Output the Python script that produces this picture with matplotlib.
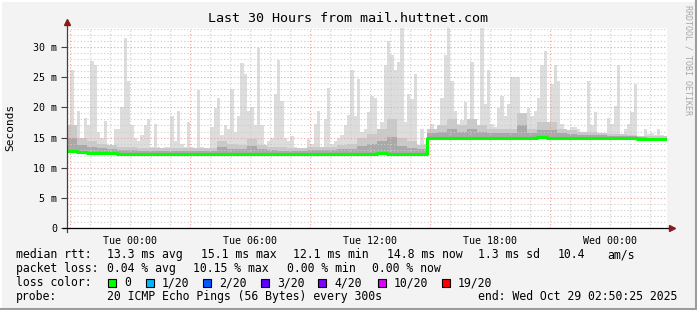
import numpy as np
import matplotlib
matplotlib.use("Agg")
import matplotlib.pyplot as plt
from matplotlib.lines import Line2D
from matplotlib.patches import Rectangle

# --- data (SmokePing, 30 hours ending Wed 02:50:25) ---
# max ping per 10 minute step (ms), 180 steps
smoke_max = [17, 26.2, 15.5, 19.4, 14.5, 18.2, 17, 27.7, 27, 16,
             15, 17.7, 13.5, 13.5, 16.5, 16.5, 20, 31.5, 24.4, 17,
             15, 14.5, 15.5, 17, 18, 13.5, 17.3, 13.5, 13.3, 13.5,
             13.5, 18.6, 14.5, 19.4, 14, 13.5, 17.6, 13.5, 13.3, 22.9,
             13.5, 13.3, 13.3, 16.8, 19.9, 21.6, 15.5, 17, 16.5, 23,
             16, 18.5, 27.4, 25.5, 19.4, 20, 17, 29.9, 17, 13.5,
             14.5, 15, 22.3, 27.9, 21, 15, 14.5, 15.3, 13.5, 13.3,
             13.3, 13.3, 14.8, 14, 17.3, 19.4, 13.5, 18, 23.3, 14,
             14.5, 15, 15.5, 17, 18.8, 26.2, 18.5, 24.7, 16, 16.5,
             19.2, 21.9, 21.6, 16, 17.5, 27.1, 31, 28.7, 26.2, 27.6,
             33.2, 17.5, 22.3, 21.4, 25.5, 13.5, 16.5, 14, 16.5, 17.3,
             16.5, 16.8, 21.6, 28.7, 33.2, 24.4, 19.4, 17.3, 17.9, 20.9,
             17.3, 27.6, 18, 16.5, 33.2, 20.5, 26.2, 17.3, 16.8, 19.9,
             21.9, 18.5, 20.5, 25, 25, 25, 16.3, 16.3, 19.9, 18.5,
             19.4, 21.6, 27, 29.3, 17, 23.9, 27, 24.4, 17.3, 16.5,
             16, 16.8, 16.8, 16.5, 15.5, 15.5, 24.3, 17, 19.2, 15.5,
             15.3, 15.3, 18.2, 17.3, 20.2, 27, 15.3, 16.5, 17.3, 19.2,
             23.8, 15.3, 15.3, 16.5, 15.6, 15.8, 15.5, 16.5, 15.5, 15.3]

# upper edge of the darker smoke band per 30 minutes (ms), 60 steps
smoke_mid = [17, 15, 14.5, 14, 13.8, 13.5, 13.5, 13.3, 13.3, 13.3,
             13.3, 13.3, 13.3, 13.3, 13.3, 14.5, 14, 13.8, 14.8, 13.8,
             13.5, 13.5, 13.3, 13.3, 13.5, 13.5, 13.5, 13.8, 14, 15,
             15.6, 16.5, 18, 15, 14.5, 13.8, 16.5, 17, 18, 17,
             18, 17, 16.5, 16.5, 16.5, 19, 16.5, 17.5, 17.5, 16.5,
             16.2, 16, 16, 15.8, 15.6, 15.6, 15.5, 15.3, 15.3, 15.3]

# median rtt per 30 minutes (ms), 60 steps
median_rtt = [12.8, 12.6, 12.5, 12.4, 12.4, 12.3, 12.3, 12.2, 12.3, 12.3,
              12.2, 12.2, 12.2, 12.3, 12.3, 12.3, 12.2, 12.3, 12.3, 12.3,
              12.3, 12.2, 12.3, 12.3, 12.3, 12.3, 12.3, 12.3, 12.2, 12.3,
              12.3, 12.4, 12.3, 12.3, 12.2, 12.3, 14.9, 15.0, 15.0, 15.0,
              15.0, 15.0, 15.0, 15.0, 15.0, 15.0, 15.0, 15.1, 15.0, 15.0,
              15.0, 15.0, 15.0, 15.0, 15.0, 15.0, 14.9, 14.8, 14.7, 14.7]

tick_labels = ["Tue 00:00", "Tue 06:00", "Tue 12:00", "Tue 18:00", "Wed 00:00"]
first_tick = 3.16  # hours from graph start to Tue 00:00
y_ticks = [0, 5, 10, 15, 20, 25, 30]

loss_labels = ["0", "1/20", "2/20", "3/20", "4/20", "10/20", "19/20"]
loss_colors = ["#00ff00", "#00b8ff", "#0059ff", "#5e00ff", "#7e00ff", "#dd00ff", "#ff0000"]

# --- figure setup ---
plt.rcParams["font.family"] = "DejaVu Sans Mono"
W, H = 697, 310
fig = plt.figure(figsize=(W / 100, H / 100), dpi=100, facecolor="#f3f3f3")
ax = fig.add_axes([67 / W, 82 / H, 600 / W, 200 / H])
ax.set_facecolor("white")

# time axes in hours
t10 = np.arange(len(smoke_max) + 1) / 6.0
mx = np.append(smoke_max, smoke_max[-1])
med = np.repeat(median_rtt, 3)
med = np.append(med, med[-1])
mid = np.repeat(smoke_mid, 3)
mid = np.append(mid, mid[-1])

# smoke layers
ax.fill_between(t10, med, mx, step="post", color="#dddddd", lw=0, zorder=1)
ax.fill_between(t10, med, mid, step="post", color="#c9c9c9", lw=0, zorder=1.1)
ax.fill_between(t10, med, (med + mid) / 2, step="post", color="#a9a9a9", lw=0, zorder=1.2)

# median line
ax.step(t10, med, where="post", color="#00ff00", lw=2.2, zorder=4)

ax.set_xlim(0, 30)
ax.set_ylim(0, 33.17)

# grid (drawn on top of the smoke, like rrdtool)
for v in range(1, 34):
    if v % 5 == 0:
        ax.axhline(v, color="#f0a0a0", lw=0.8, ls=(0, (1, 2)), zorder=3)
    else:
        ax.axhline(v, color="#cccccc", lw=0.8, ls=(0, (1, 2)), zorder=3)
for k in range(30):
    h = first_tick - 3 + k
    if h < 0:
        continue
    if k % 6 == 0:
        ax.axvline(h, color="#f0a0a0", lw=0.8, ls=(0, (1, 2)), zorder=3)
    else:
        ax.axvline(h, color="#cccccc", lw=0.8, ls=(0, (1, 2)), zorder=3)

# axes and arrows
for s in ax.spines.values():
    s.set_visible(False)
ax.plot([0, 0], [-0.6, 34.2], color="#404040", lw=0.9, clip_on=False, zorder=5)
ax.plot([-0.2, 30.2], [0, 0], color="black", lw=0.9, clip_on=False, zorder=5)
ax.plot([0], [34.2], marker="^", ms=5, color="#8b1a1a", clip_on=False, zorder=6)
ax.plot([30.25], [0], marker=">", ms=5, color="#8b1a1a", clip_on=False, zorder=6)

ax.set_yticks(y_ticks)
ax.set_yticklabels(["0"] + ["%d m" % v for v in y_ticks[1:]], fontsize=7.2)
ax.set_xticks([first_tick + 6 * i for i in range(len(tick_labels))])
ax.set_xticklabels(tick_labels, fontsize=7.2)
ax.tick_params(axis="y", length=4, width=0.8, color="#404040", pad=3)
ax.tick_params(axis="x", length=0, pad=6)

fig.text(10 / W, 1 - 127 / H, "Seconds", rotation=90, ha="center", va="center", fontsize=8)
fig.text(348 / W, 1 - 19 / H, "Last 30 Hours from mail.huttnet.com", ha="center", va="center", fontsize=9.6)
fig.text(688 / W, 1 - 60 / H, "RRDTOOL / TOBI OETIKER", rotation=270, ha="center", va="center",
         fontsize=6, color="#a8a8a8")

# legend rows
def put(x, y, s):
    fig.text(x / W, 1 - y / H, s, ha="left", va="center", fontsize=8.3)

put(16, 254.5, "median rtt:")
put(107, 254.5, "13.3 ms avg")
put(201, 254.5, "15.1 ms max")
put(293, 254.5, "12.1 ms min")
put(387, 254.5, "14.8 ms now")
put(478, 254.5, "1.3 ms sd")
put(558, 254.5, "10.4")
put(607, 254.5, "am/s")

put(16, 268.5, "packet loss:")
put(107, 268.5, "0.04 % avg")
put(193, 268.5, "10.15 % max")
put(287, 268.5, "0.00 % min")
put(372, 268.5, "0.00 % now")

put(16, 282.5, "loss color:")
box_x = [108, 146, 203, 261, 318, 378, 442]
for bx, lab, col in zip(box_x, loss_labels, loss_colors):
    fig.add_artist(Rectangle((bx / W, 1 - 286.5 / H), 8 / W, 8 / H, facecolor=col,
                             edgecolor="black", lw=0.8, transform=fig.transFigure))
    put(bx + 16, 282.5, lab)

put(16, 296.5, "probe:")
put(107, 296.5, "20 ICMP Echo Pings (56 Bytes) every 300s")
put(478, 296.5, "end: Wed Oct 29 02:50:25 2025")

# 3d frame around the image
fig.add_artist(Line2D([0, 1], [1 - 0.5 / H, 1 - 0.5 / H], color="#ffffff", lw=1.5, transform=fig.transFigure))
fig.add_artist(Line2D([0.5 / W, 0.5 / W], [0, 1], color="#ffffff", lw=1.5, transform=fig.transFigure))
fig.add_artist(Line2D([0, 1], [1 / H, 1 / H], color="#9c9c9c", lw=1.5, transform=fig.transFigure))
fig.add_artist(Line2D([1 - 1 / W, 1 - 1 / W], [0, 1], color="#9c9c9c", lw=1.5, transform=fig.transFigure))

fig.savefig("out.png", dpi=100, facecolor=fig.get_facecolor())
